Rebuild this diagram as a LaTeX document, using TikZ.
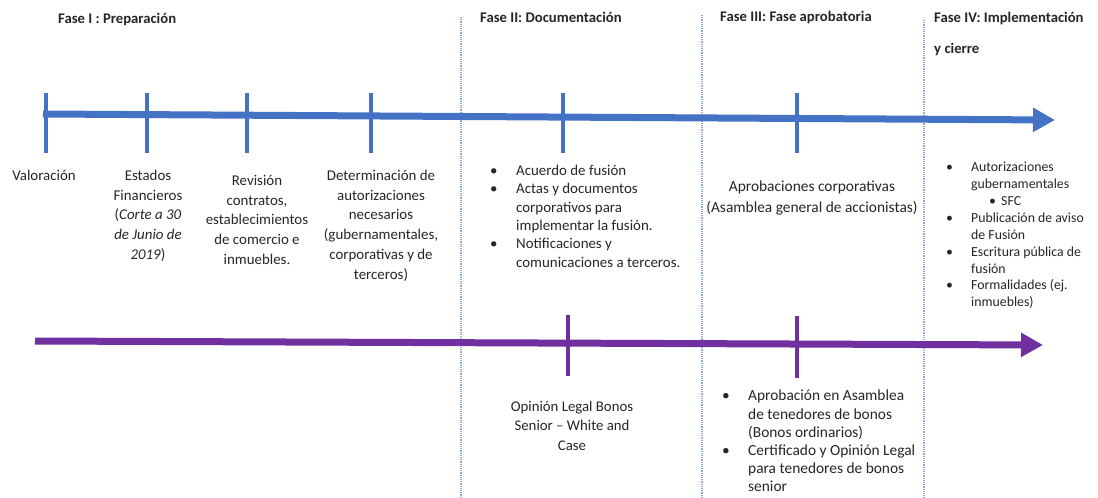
\documentclass[tikz,border=0pt]{standalone}
\usepackage{fontspec}
\setmainfont{Carlito}
\usetikzlibrary{arrows.meta}
\definecolor{tlblue}{HTML}{4472C4}
\definecolor{tlpurple}{HTML}{7030A0}
\definecolor{divider}{HTML}{8EAADB}
\definecolor{txt}{HTML}{262626}
\newcommand{\bul}[1]{\makebox[#1][l]{•}}
\begin{document}
\begin{tikzpicture}[x=1pt,y=-1pt,
  timeline/.style={line width=7pt, -{Triangle[length=22pt,width=23pt]}},
  tickline/.style={line width=4.5pt},
  divline/.style={divider, line width=1.2pt, densely dotted},
  phase/.style={font=\fontsize{14.7}{17}\selectfont\bfseries, text=txt, anchor=west, inner sep=0},
  lbl/.style={font=\fontsize{14.9}{19.7}\selectfont, text=txt, align=center, anchor=north, inner sep=0},
  blist/.style={font=\fontsize{14.9}{18.3}\selectfont, text=txt, align=left, anchor=north west, inner sep=0},
]
\fill[white] (0,0) rectangle (1098,498);
\useasboundingbox (0,0) rectangle (1098,498);

% dividers
\coordinate (d1t) at (461,17); \coordinate (d1b) at (461,498);
\coordinate (d2t) at (702,15); \coordinate (d2b) at (702,498);
\coordinate (d3t) at (924,20); \coordinate (d3b) at (924,498);
\draw[divline] (d1t) -- (d1b);
\draw[divline] (d2t) -- (d2b);
\draw[divline] (d3t) -- (d3b);

% blue timeline
\coordinate (bs) at (43,114);
\coordinate (be) at (1055,120);
\draw[timeline, tlblue] (bs) -- (be);
\foreach \x/\n in {46/b1,147/b2,247/b3,371/b4,563/b5,797/b6}{
  \coordinate (\n t) at (\x,93); \coordinate (\n b) at (\x,153);
  \draw[tickline, tlblue] (\n t) -- (\n b);
}

% purple timeline
\coordinate (ps) at (35,341);
\coordinate (pe) at (1043,345);
\draw[timeline, tlpurple] (ps) -- (pe);
\coordinate (p1t) at (568,315); \coordinate (p1b) at (568,376);
\coordinate (p2t) at (797,316); \coordinate (p2b) at (797,378);
\draw[tickline, tlpurple] (p1t) -- (p1b);
\draw[tickline, tlpurple] (p2t) -- (p2b);

% phase titles
\node[phase] (f1) at (58,19) {Fase I : Preparación};
\node[phase] (f2) at (480,17) {Fase II: Documentación};
\node[phase] (f3) at (720,17) {Fase III: Fase aprobatoria};
\node[phase] (f4) at (934,18) {Fase IV: Implementación};
\node[phase] (f4b) at (934,49) {y cierre};

% phase I labels
\node[lbl] (valor) at (44,170) {Valoración};
\node[lbl] (estados) at (148,170) {Estados\\Financieros\\(\textit{Corte a 30}\\\textit{de Junio de}\\\textit{2019})};
\node[lbl] (revision) at (257,175) {Revisión\\contratos,\\establecimientos\\de comercio e\\inmuebles.};
\node[lbl] (determ) at (381,170) {Determinación de\\autorizaciones\\necesarios\\(gubernamentales,\\corporativas y de\\terceros)};

% phase II
\node[blist] (docs) at (490,165) {\bul{26pt}Acuerdo de fusión\\
\bul{26pt}Actas y documentos\\\hspace*{26pt}corporativos para\\\hspace*{26pt}implementar la fusión.\\
\bul{26pt}Notificaciones y\\\hspace*{26pt}comunicaciones a terceros.};

% phase III
\node[lbl, font=\fontsize{15.4}{20.5}\selectfont] (aprob) at (812,181) {Aprobaciones corporativas\\(Asamblea general de accionistas)};

% phase IV
\node[blist, font=\fontsize{13.8}{16.9}\selectfont] (impl) at (946,162) {\bul{25pt}Autorizaciones\\\hspace*{25pt}gubernamentales\\
\hspace*{43pt}\bul{12pt}SFC\\
\bul{25pt}Publicación de aviso\\\hspace*{25pt}de Fusión\\
\bul{25pt}Escritura pública de\\\hspace*{25pt}fusión\\
\bul{25pt}Formalidades (ej.\\\hspace*{25pt}inmuebles)};

% bottom labels
\node[lbl, font=\fontsize{14.8}{19.5}\selectfont] (opinion) at (572,401) {Opinión Legal Bonos\\Senior – White and\\Case};
\node[blist, font=\fontsize{15.4}{18.2}\selectfont] (bonos) at (722,390) {\bul{26pt}Aprobación en Asamblea\\\hspace*{26pt}de tenedores de bonos\\\hspace*{26pt}(Bonos ordinarios)\\
\bul{26pt}Certificado y Opinión Legal\\\hspace*{26pt}para tenedores de bonos\\\hspace*{26pt}senior};
\end{tikzpicture}
\end{document}
